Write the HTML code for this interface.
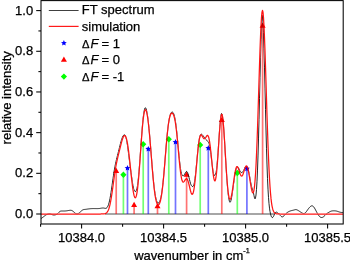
<!DOCTYPE html>
<html><head><meta charset="utf-8"><style>
html,body{margin:0;padding:0;background:#fff;width:350px;height:260px;overflow:hidden}
svg{display:block;will-change:transform}
text{font-family:"Liberation Sans",sans-serif;stroke:#000;stroke-width:0.25px}
</style></head><body>
<svg width="350" height="260" viewBox="0 0 350 260" font-family="Liberation Sans, sans-serif" font-size="13" fill="#000">
<rect width="350" height="260" fill="#fff"/>
<line x1="105" y1="214.0" x2="274.5" y2="214.0" stroke="#888" stroke-width="1.5"/>
<line x1="116.2" y1="214.0" x2="116.2" y2="170.32" stroke="#ff0000" stroke-width="1.7" stroke-opacity="0.55"/>
<line x1="134.1" y1="214.0" x2="134.1" y2="204.45" stroke="#ff0000" stroke-width="1.7" stroke-opacity="0.55"/>
<line x1="157.5" y1="214.0" x2="157.5" y2="205.67" stroke="#ff0000" stroke-width="1.7" stroke-opacity="0.55"/>
<line x1="186.6" y1="214.0" x2="186.6" y2="174.18" stroke="#ff0000" stroke-width="1.7" stroke-opacity="0.55"/>
<line x1="221.8" y1="214.0" x2="221.8" y2="119.52" stroke="#ff0000" stroke-width="1.7" stroke-opacity="0.55"/>
<line x1="262.6" y1="214.0" x2="262.6" y2="25.03" stroke="#ff0000" stroke-width="1.7" stroke-opacity="0.55"/>
<line x1="123.4" y1="214.0" x2="123.4" y2="174.79" stroke="#00ff00" stroke-width="1.7" stroke-opacity="0.55"/>
<line x1="143.2" y1="214.0" x2="143.2" y2="144.31" stroke="#00ff00" stroke-width="1.7" stroke-opacity="0.55"/>
<line x1="168.8" y1="214.0" x2="168.8" y2="139.23" stroke="#00ff00" stroke-width="1.7" stroke-opacity="0.55"/>
<line x1="200.2" y1="214.0" x2="200.2" y2="144.92" stroke="#00ff00" stroke-width="1.7" stroke-opacity="0.55"/>
<line x1="237.3" y1="214.0" x2="237.3" y2="172.96" stroke="#00ff00" stroke-width="1.7" stroke-opacity="0.55"/>
<line x1="127.5" y1="214.0" x2="127.5" y2="168.08" stroke="#0000ff" stroke-width="1.7" stroke-opacity="0.55"/>
<line x1="148.3" y1="214.0" x2="148.3" y2="148.98" stroke="#0000ff" stroke-width="1.7" stroke-opacity="0.55"/>
<line x1="175.5" y1="214.0" x2="175.5" y2="142.07" stroke="#0000ff" stroke-width="1.7" stroke-opacity="0.55"/>
<line x1="208.3" y1="214.0" x2="208.3" y2="148.17" stroke="#0000ff" stroke-width="1.7" stroke-opacity="0.55"/>
<line x1="246.9" y1="214.0" x2="246.9" y2="168.69" stroke="#0000ff" stroke-width="1.7" stroke-opacity="0.55"/>
<polygon points="116.20,167.72 119.20,172.92 113.20,172.92" fill="#ff0000"/>
<polygon points="134.10,201.85 137.10,207.05 131.10,207.05" fill="#ff0000"/>
<polygon points="157.50,203.07 160.50,208.27 154.50,208.27" fill="#ff0000"/>
<polygon points="186.60,171.58 189.60,176.78 183.60,176.78" fill="#ff0000"/>
<polygon points="221.80,116.92 224.80,122.12 218.80,122.12" fill="#ff0000"/>
<polygon points="262.60,22.43 265.60,27.63 259.60,27.63" fill="#ff0000"/>
<polygon points="123.40,171.59 126.50,174.79 123.40,177.99 120.30,174.79" fill="#00ff00"/>
<polygon points="143.20,141.11 146.30,144.31 143.20,147.51 140.10,144.31" fill="#00ff00"/>
<polygon points="168.80,136.03 171.90,139.23 168.80,142.43 165.70,139.23" fill="#00ff00"/>
<polygon points="200.20,141.72 203.30,144.92 200.20,148.12 197.10,144.92" fill="#00ff00"/>
<polygon points="237.30,169.76 240.40,172.96 237.30,176.16 234.20,172.96" fill="#00ff00"/>
<polygon points="127.50,165.03 128.35,166.91 130.40,167.14 128.88,168.53 129.29,170.55 127.50,169.53 125.71,170.55 126.12,168.53 124.60,167.14 126.65,166.91" fill="#0000ff"/>
<polygon points="148.30,145.93 149.15,147.81 151.20,148.04 149.68,149.43 150.09,151.45 148.30,150.43 146.51,151.45 146.92,149.43 145.40,148.04 147.45,147.81" fill="#0000ff"/>
<polygon points="175.50,139.02 176.35,140.90 178.40,141.13 176.88,142.52 177.29,144.54 175.50,143.52 173.71,144.54 174.12,142.52 172.60,141.13 174.65,140.90" fill="#0000ff"/>
<polygon points="208.30,145.12 209.15,146.99 211.20,147.22 209.68,148.61 210.09,150.63 208.30,149.62 206.51,150.63 206.92,148.61 205.40,147.22 207.45,146.99" fill="#0000ff"/>
<polygon points="246.90,165.64 247.75,167.52 249.80,167.75 248.28,169.14 248.69,171.16 246.90,170.14 245.11,171.16 245.52,169.14 244.00,167.75 246.05,167.52" fill="#0000ff"/>
<mask id="mk" maskUnits="userSpaceOnUse" x="0" y="0" width="350" height="260"><rect width="350" height="260" fill="#fff"/><path d="M41.00,214.00 L41.50,214.00 L42.00,214.00 L42.50,214.00 L43.00,214.00 L43.50,214.00 L44.00,214.00 L44.50,214.00 L45.00,214.00 L45.50,214.00 L46.00,214.00 L46.50,214.00 L47.00,214.00 L47.50,214.00 L48.00,214.00 L48.50,214.00 L49.00,214.00 L49.50,214.00 L50.00,214.00 L50.50,214.00 L51.00,214.00 L51.50,214.00 L52.00,214.00 L52.50,214.00 L53.00,214.00 L53.50,214.00 L54.00,214.00 L54.50,214.00 L55.00,214.00 L55.50,214.00 L56.00,214.00 L56.50,214.00 L57.00,214.00 L57.50,214.00 L58.00,214.00 L58.50,214.00 L59.00,214.00 L59.50,214.00 L60.00,214.00 L60.50,214.00 L61.00,214.00 L61.50,214.00 L62.00,214.00 L62.50,214.00 L63.00,214.00 L63.50,214.00 L64.00,214.00 L64.50,214.00 L65.00,214.00 L65.50,214.00 L66.00,214.00 L66.50,214.00 L67.00,214.00 L67.50,214.00 L68.00,214.00 L68.50,214.00 L69.00,214.00 L69.50,214.00 L70.00,214.00 L70.50,214.00 L71.00,214.00 L71.50,214.00 L72.00,214.00 L72.50,214.00 L73.00,214.00 L73.50,214.00 L74.00,214.00 L74.50,214.00 L75.00,214.00 L75.50,214.00 L76.00,214.00 L76.50,214.00 L77.00,214.00 L77.50,214.00 L78.00,214.00 L78.50,214.00 L79.00,214.00 L79.50,214.00 L80.00,214.00 L80.50,214.00 L81.00,214.00 L81.50,214.00 L82.00,214.00 L82.50,214.00 L83.00,214.00 L83.50,214.00 L84.00,214.00 L84.50,214.00 L85.00,214.00 L85.50,214.00 L86.00,214.00 L86.50,214.00 L87.00,214.00 L87.50,214.00 L88.00,214.00 L88.50,214.00 L89.00,214.00 L89.50,214.00 L90.00,214.00 L90.50,214.00 L91.00,214.00 L91.50,214.00 L92.00,214.00 L92.50,214.00 L93.00,214.00 L93.50,214.00 L94.00,214.00 L94.50,214.00 L95.00,214.00 L95.50,214.00 L96.00,214.00 L96.50,214.00 L97.00,214.00 L97.50,214.00 L98.00,214.00 L98.50,214.00 L99.00,214.00 L99.50,214.00 L100.00,214.00 L100.50,214.00 L101.00,213.99 L101.50,213.99 L102.00,213.98 L102.50,213.96 L103.00,213.94 L103.50,213.90 L104.00,213.85 L104.50,213.76 L105.00,213.63 L105.50,213.45 L106.00,213.19 L106.50,212.82 L107.00,212.32 L107.50,211.66 L108.00,210.79 L108.50,209.68 L109.00,208.29 L109.50,206.59 L110.00,204.55 L110.50,202.17 L111.00,199.46 L111.50,196.43 L112.00,193.12 L112.50,189.61 L113.00,185.97 L113.50,182.27 L114.00,178.61 L114.50,175.08 L115.00,171.73 L115.50,168.61 L116.00,165.75 L116.50,163.14 L117.00,160.75 L117.50,158.54 L118.00,156.45 L118.50,154.43 L119.00,152.43 L119.50,150.42 L120.00,148.39 L120.50,146.36 L121.00,144.35 L121.50,142.42 L122.00,140.61 L122.50,139.00 L123.00,137.64 L123.50,136.59 L124.00,135.89 L124.50,135.58 L125.00,135.70 L125.50,136.28 L126.00,137.35 L126.50,138.93 L127.00,141.03 L127.50,143.66 L128.00,146.81 L128.50,150.44 L129.00,154.50 L129.50,158.91 L130.00,163.57 L130.50,168.37 L131.00,173.17 L131.50,177.85 L132.00,182.27 L132.50,186.32 L133.00,189.89 L133.50,192.89 L134.00,195.25 L134.50,196.88 L135.00,197.74 L135.50,197.78 L136.00,196.95 L136.50,195.23 L137.00,192.61 L137.50,189.07 L138.00,184.67 L138.50,179.44 L139.00,173.50 L139.50,166.97 L140.00,160.02 L140.50,152.84 L141.00,145.67 L141.50,138.71 L142.00,132.18 L142.50,126.27 L143.00,121.14 L143.50,116.90 L144.00,113.63 L144.50,111.35 L145.00,110.06 L145.50,109.71 L146.00,110.26 L146.50,111.65 L147.00,113.81 L147.50,116.71 L148.00,120.27 L148.50,124.47 L149.00,129.24 L149.50,134.52 L150.00,140.22 L150.50,146.26 L151.00,152.50 L151.50,158.82 L152.00,165.08 L152.50,171.14 L153.00,176.88 L153.50,182.18 L154.00,186.97 L154.50,191.18 L155.00,194.79 L155.50,197.81 L156.00,200.23 L156.50,202.11 L157.00,203.48 L157.50,204.37 L158.00,204.81 L158.50,204.83 L159.00,204.43 L159.50,203.59 L160.00,202.31 L160.50,200.53 L161.00,198.24 L161.50,195.39 L162.00,191.96 L162.50,187.96 L163.00,183.38 L163.50,178.29 L164.00,172.75 L164.50,166.85 L165.00,160.74 L165.50,154.55 L166.00,148.43 L166.50,142.54 L167.00,137.01 L167.50,131.98 L168.00,127.53 L168.50,123.71 L169.00,120.54 L169.50,118.01 L170.00,116.07 L170.50,114.68 L171.00,113.76 L171.50,113.25 L172.00,113.11 L172.50,113.32 L173.00,113.89 L173.50,114.84 L174.00,116.22 L174.50,118.09 L175.00,120.51 L175.50,123.51 L176.00,127.11 L176.50,131.30 L177.00,136.00 L177.50,141.13 L178.00,146.55 L178.50,152.10 L179.00,157.59 L179.50,162.83 L180.00,167.67 L180.50,171.93 L181.00,175.51 L181.50,178.32 L182.00,180.34 L182.50,181.59 L183.00,182.14 L183.50,182.11 L184.00,181.64 L184.50,180.90 L185.00,180.07 L185.50,179.33 L186.00,178.82 L186.50,178.66 L187.00,178.95 L187.50,179.71 L188.00,180.93 L188.50,182.56 L189.00,184.49 L189.50,186.60 L190.00,188.74 L190.50,190.73 L191.00,192.43 L191.50,193.66 L192.00,194.29 L192.50,194.21 L193.00,193.33 L193.50,191.60 L194.00,189.02 L194.50,185.60 L195.00,181.44 L195.50,176.64 L196.00,171.37 L196.50,165.82 L197.00,160.20 L197.50,154.75 L198.00,149.67 L198.50,145.16 L199.00,141.40 L199.50,138.47 L200.00,136.43 L200.50,135.25 L201.00,134.84 L201.50,135.06 L202.00,135.70 L202.50,136.58 L203.00,137.48 L203.50,138.22 L204.00,138.67 L204.50,138.75 L205.00,138.46 L205.50,137.86 L206.00,137.06 L206.50,136.25 L207.00,135.62 L207.50,135.36 L208.00,135.67 L208.50,136.69 L209.00,138.51 L209.50,141.17 L210.00,144.62 L210.50,148.76 L211.00,153.42 L211.50,158.39 L212.00,163.44 L212.50,168.29 L213.00,172.68 L213.50,176.35 L214.00,179.08 L214.50,180.65 L215.00,180.92 L215.50,179.79 L216.00,177.23 L216.50,173.26 L217.00,168.01 L217.50,161.67 L218.00,154.53 L218.50,146.92 L219.00,139.25 L219.50,131.94 L220.00,125.44 L220.50,120.14 L221.00,116.39 L221.50,114.44 L222.00,114.43 L222.50,116.38 L223.00,120.18 L223.50,125.61 L224.00,132.37 L224.50,140.08 L225.00,148.36 L225.50,156.80 L226.00,165.05 L226.50,172.78 L227.00,179.74 L227.50,185.76 L228.00,190.71 L228.50,194.54 L229.00,197.23 L229.50,198.83 L230.00,199.37 L230.50,198.95 L231.00,197.66 L231.50,195.62 L232.00,192.94 L232.50,189.78 L233.00,186.30 L233.50,182.66 L234.00,179.04 L234.50,175.64 L235.00,172.61 L235.50,170.09 L236.00,168.22 L236.50,167.04 L237.00,166.57 L237.50,166.78 L238.00,167.58 L238.50,168.83 L239.00,170.36 L239.50,171.99 L240.00,173.53 L240.50,174.82 L241.00,175.72 L241.50,176.13 L242.00,176.01 L242.50,175.38 L243.00,174.30 L243.50,172.88 L244.00,171.27 L244.50,169.62 L245.00,168.11 L245.50,166.90 L246.00,166.14 L246.50,165.93 L247.00,166.34 L247.50,167.40 L248.00,169.08 L248.50,171.33 L249.00,174.04 L249.50,177.08 L250.00,180.28 L250.50,183.49 L251.00,186.50 L251.50,189.14 L252.00,191.22 L252.50,192.53 L253.00,192.90 L253.50,192.12 L254.00,190.03 L254.50,186.45 L255.00,181.24 L255.50,174.27 L256.00,165.48 L256.50,154.89 L257.00,142.56 L257.50,128.69 L258.00,113.58 L258.50,97.63 L259.00,81.37 L259.50,65.39 L260.00,50.34 L260.50,36.89 L261.00,25.68 L261.50,17.26 L262.00,12.07 L262.50,10.37 L263.00,12.28 L263.50,17.67 L264.00,26.28 L264.50,37.66 L265.00,51.26 L265.50,66.46 L266.00,82.59 L266.50,99.01 L267.00,115.15 L267.50,130.51 L268.00,144.73 L268.50,157.54 L269.00,168.79 L269.50,178.43 L270.00,186.51 L270.50,193.13 L271.00,198.43 L271.50,202.59 L272.00,205.78 L272.50,208.19 L273.00,209.96 L273.50,211.24 L274.00,212.15 L274.50,212.78 L275.00,213.21 L275.50,213.50 L276.00,213.69 L276.50,213.81 L277.00,213.88 L277.50,213.93 L278.00,213.96 L278.50,213.98 L279.00,213.99 L279.50,213.99 L280.00,214.00 L280.50,214.00 L281.00,214.00 L281.50,214.00 L282.00,214.00 L282.50,214.00 L283.00,214.00 L283.50,214.00 L284.00,214.00 L284.50,214.00 L285.00,214.00 L285.50,214.00 L286.00,214.00 L286.50,214.00 L287.00,214.00 L287.50,214.00 L288.00,214.00 L288.50,214.00 L289.00,214.00 L289.50,214.00 L290.00,214.00 L290.50,214.00 L291.00,214.00 L291.50,214.00 L292.00,214.00 L292.50,214.00 L293.00,214.00 L293.50,214.00 L294.00,214.00 L294.50,214.00 L295.00,214.00 L295.50,214.00 L296.00,214.00 L296.50,214.00 L297.00,214.00 L297.50,214.00 L298.00,214.00 L298.50,214.00 L299.00,214.00 L299.50,214.00 L300.00,214.00 L300.50,214.00 L301.00,214.00 L301.50,214.00 L302.00,214.00 L302.50,214.00 L303.00,214.00 L303.50,214.00 L304.00,214.00 L304.50,214.00 L305.00,214.00 L305.50,214.00 L306.00,214.00 L306.50,214.00 L307.00,214.00 L307.50,214.00 L308.00,214.00 L308.50,214.00 L309.00,214.00 L309.50,214.00 L310.00,214.00 L310.50,214.00 L311.00,214.00 L311.50,214.00 L312.00,214.00 L312.50,214.00 L313.00,214.00 L313.50,214.00 L314.00,214.00 L314.50,214.00 L315.00,214.00 L315.50,214.00 L316.00,214.00 L316.50,214.00 L317.00,214.00 L317.50,214.00 L318.00,214.00 L318.50,214.00 L319.00,214.00 L319.50,214.00 L320.00,214.00 L320.50,214.00 L321.00,214.00 L321.50,214.00 L322.00,214.00 L322.50,214.00 L323.00,214.00 L323.50,214.00 L324.00,214.00 L324.50,214.00 L325.00,214.00 L325.50,214.00 L326.00,214.00 L326.50,214.00 L327.00,214.00 L327.50,214.00 L328.00,214.00 L328.50,214.00 L329.00,214.00 L329.50,214.00 L330.00,214.00 L330.50,214.00 L331.00,214.00 L331.50,214.00 L332.00,214.00 L332.50,214.00 L333.00,214.00 L333.50,214.00 L334.00,214.00 L334.50,214.00 L335.00,214.00 L335.50,214.00 L336.00,214.00 L336.50,214.00 L337.00,214.00 L337.50,214.00 L338.00,214.00 L338.50,214.00 L339.00,214.00 L339.50,214.00 L340.00,214.00 L340.50,214.00 L341.00,214.00 L341.50,214.00 L342.00,214.00 L342.50,214.00 L343.00,214.00" fill="none" stroke="#000" stroke-width="1.0"/></mask>
<path d="M41.00,218.65 L41.50,218.28 L42.00,217.91 L42.50,217.55 L43.00,217.17 L43.50,216.79 L44.00,216.40 L44.50,216.00 L45.00,215.61 L45.50,215.24 L46.00,214.90 L46.50,214.61 L47.00,214.37 L47.50,214.17 L48.00,214.00 L48.50,213.87 L49.00,213.78 L49.50,213.76 L50.00,213.80 L50.50,213.92 L51.00,214.11 L51.50,214.32 L52.00,214.54 L52.50,214.75 L53.00,214.90 L53.50,214.99 L54.00,215.01 L54.50,214.98 L55.00,214.90 L55.50,214.78 L56.00,214.61 L56.50,214.38 L57.00,214.08 L57.50,213.70 L58.00,213.24 L58.50,212.73 L59.00,212.22 L59.50,211.76 L60.00,211.40 L60.50,211.17 L61.00,211.05 L61.50,211.01 L62.00,211.00 L62.50,211.00 L63.00,211.01 L63.50,211.01 L64.00,211.01 L64.50,211.00 L65.00,210.98 L65.50,210.95 L66.00,210.90 L66.50,210.84 L67.00,210.76 L67.50,210.68 L68.00,210.59 L68.50,210.50 L69.00,210.42 L69.50,210.35 L70.00,210.30 L70.50,210.27 L71.00,210.30 L71.50,210.40 L72.00,210.60 L72.50,210.90 L73.00,211.27 L73.50,211.70 L74.00,212.16 L74.50,212.63 L75.00,213.05 L75.50,213.40 L76.00,213.64 L76.50,213.76 L77.00,213.80 L77.50,213.75 L78.00,213.62 L78.50,213.40 L79.00,213.10 L79.50,212.71 L80.00,212.26 L80.50,211.78 L81.00,211.30 L81.50,210.84 L82.00,210.42 L82.50,210.07 L83.00,209.80 L83.50,209.62 L84.00,209.51 L84.50,209.45 L85.00,209.40 L85.50,209.35 L86.00,209.28 L86.50,209.22 L87.00,209.15 L87.50,209.07 L88.00,209.00 L88.50,208.93 L89.00,208.87 L89.50,208.81 L90.00,208.75 L90.50,208.70 L91.00,208.66 L91.50,208.63 L92.00,208.60 L92.50,208.58 L93.00,208.57 L93.50,208.57 L94.00,208.57 L94.50,208.58 L95.00,208.59 L95.50,208.59 L96.00,208.60 L96.50,208.60 L97.00,208.60 L97.50,208.60 L98.00,208.58 L98.50,208.56 L99.00,208.52 L99.50,208.47 L100.00,208.40 L100.50,208.31 L101.00,208.22 L101.50,208.14 L102.00,208.06 L102.50,208.02 L103.00,208.01 L103.50,208.03 L104.00,208.10 L104.50,208.21 L105.00,208.32 L105.50,208.36 L106.00,208.30 L106.50,208.07 L107.00,207.62 L107.50,206.93 L108.00,205.94 L108.50,204.63 L109.00,202.95 L109.50,200.90 L110.00,198.46 L110.50,195.67 L111.00,192.58 L111.50,189.24 L112.00,185.74 L112.50,182.17 L113.00,178.65 L113.50,175.24 L114.00,172.01 L114.50,169.02 L115.00,166.28 L115.50,163.78 L116.00,161.49 L116.50,159.36 L117.00,157.34 L117.50,155.36 L118.00,153.40 L118.50,151.41 L119.00,149.39 L119.50,147.35 L120.00,145.31 L120.50,143.34 L121.00,141.51 L121.50,139.83 L122.00,138.34 L122.50,137.07 L123.00,136.05 L123.50,135.30 L124.00,134.89 L124.50,134.85 L125.00,135.28 L125.50,136.22 L126.00,137.72 L126.50,139.79 L127.00,142.43 L127.50,145.61 L128.00,149.28 L128.50,153.22 L129.00,157.18 L129.50,161.11 L130.00,164.99 L130.50,168.78 L131.00,172.49 L131.50,176.10 L132.00,179.56 L132.50,182.82 L133.00,185.77 L133.50,188.18 L134.00,189.91 L134.50,190.99 L135.00,191.50 L135.50,191.54 L136.00,191.11 L136.50,190.08 L137.00,188.26 L137.50,185.50 L138.00,181.75 L138.50,177.04 L139.00,171.48 L139.50,165.22 L140.00,158.46 L140.50,151.41 L141.00,144.30 L141.50,137.35 L142.00,130.78 L142.50,124.79 L143.00,119.53 L143.50,115.13 L144.00,111.70 L144.50,109.30 L145.00,108.00 L145.50,107.77 L146.00,108.53 L146.50,110.16 L147.00,112.56 L147.50,115.65 L148.00,119.38 L148.50,123.70 L149.00,128.56 L149.50,133.90 L150.00,139.65 L150.50,145.71 L151.00,151.96 L151.50,158.27 L152.00,164.50 L152.50,170.51 L153.00,176.18 L153.50,181.39 L154.00,186.05 L154.50,190.12 L155.00,193.58 L155.50,196.42 L156.00,198.69 L156.50,200.43 L157.00,201.69 L157.50,202.51 L158.00,202.93 L158.50,202.97 L159.00,202.62 L159.50,201.88 L160.00,200.71 L160.50,199.09 L161.00,196.97 L161.50,194.29 L162.00,191.03 L162.50,187.17 L163.00,182.73 L163.50,177.73 L164.00,172.27 L164.50,166.44 L165.00,160.37 L165.50,154.21 L166.00,148.10 L166.50,142.22 L167.00,136.69 L167.50,131.64 L168.00,127.16 L168.50,123.29 L169.00,120.07 L169.50,117.47 L170.00,115.45 L170.50,113.96 L171.00,112.93 L171.50,112.31 L172.00,112.03 L172.50,112.09 L173.00,112.50 L173.50,113.30 L174.00,114.56 L174.50,116.34 L175.00,118.72 L175.50,121.72 L176.00,125.34 L176.50,129.56 L177.00,134.28 L177.50,139.40 L178.00,144.76 L178.50,150.19 L179.00,155.50 L179.50,160.47 L180.00,164.92 L180.50,168.67 L181.00,171.59 L181.50,173.67 L182.00,174.97 L182.50,175.66 L183.00,175.89 L183.50,175.72 L184.00,175.21 L184.50,174.43 L185.00,173.48 L185.50,172.55 L186.00,171.81 L186.50,171.45 L187.00,171.63 L187.50,172.40 L188.00,173.74 L188.50,175.50 L189.00,177.53 L189.50,179.64 L190.00,181.65 L190.50,183.41 L191.00,184.79 L191.50,185.75 L192.00,186.31 L192.50,186.56 L193.00,186.46 L193.50,185.81 L194.00,184.36 L194.50,181.95 L195.00,178.59 L195.50,174.40 L196.00,169.59 L196.50,164.37 L197.00,159.01 L197.50,153.75 L198.00,148.83 L198.50,144.46 L199.00,140.82 L199.50,138.00 L200.00,136.02 L200.50,134.81 L201.00,134.25 L201.50,134.18 L202.00,134.47 L202.50,135.01 L203.00,135.65 L203.50,136.33 L204.00,137.01 L204.50,137.75 L205.00,138.47 L205.50,139.08 L206.00,139.58 L206.50,140.03 L207.00,140.54 L207.50,141.12 L208.00,141.71 L208.50,142.39 L209.00,143.38 L209.50,145.00 L210.00,147.43 L210.50,150.69 L211.00,154.62 L211.50,158.94 L212.00,163.36 L212.50,167.54 L213.00,171.11 L213.50,173.74 L214.00,175.15 L214.50,175.40 L215.00,174.99 L215.50,174.25 L216.00,172.73 L216.50,169.83 L217.00,165.39 L217.50,159.62 L218.00,152.85 L218.50,145.48 L219.00,137.95 L219.50,130.72 L220.00,124.23 L220.50,118.91 L221.00,115.19 L221.50,113.50 L222.00,114.03 L222.50,116.45 L223.00,120.47 L223.50,125.99 L224.00,132.79 L224.50,140.53 L225.00,148.85 L225.50,157.36 L226.00,165.69 L226.50,173.56 L227.00,180.71 L227.50,186.99 L228.00,192.29 L228.50,196.54 L229.00,199.68 L229.50,201.62 L230.00,202.30 L230.50,201.80 L231.00,200.29 L231.50,197.99 L232.00,195.08 L232.50,191.74 L233.00,188.11 L233.50,184.38 L234.00,180.72 L234.50,177.28 L235.00,174.22 L235.50,171.64 L236.00,169.61 L236.50,168.16 L237.00,167.29 L237.50,167.00 L238.00,167.25 L238.50,167.95 L239.00,168.95 L239.50,170.06 L240.00,171.08 L240.50,171.87 L241.00,172.37 L241.50,172.57 L242.00,172.50 L242.50,172.18 L243.00,171.59 L243.50,170.73 L244.00,169.68 L244.50,168.59 L245.00,167.62 L245.50,166.90 L246.00,166.54 L246.50,166.57 L247.00,167.00 L247.50,167.83 L248.00,169.13 L248.50,170.92 L249.00,173.16 L249.50,175.76 L250.00,178.55 L250.50,181.35 L251.00,183.98 L251.50,186.27 L252.00,188.10 L252.50,189.54 L253.00,191.00 L253.50,193.05 L254.00,195.64 L254.50,197.90 L255.00,198.87 L255.50,197.99 L256.00,194.94 L256.50,189.45 L257.00,181.24 L257.50,170.10 L258.00,155.94 L258.50,138.93 L259.00,119.54 L259.50,98.63 L260.00,77.36 L260.50,57.17 L261.00,39.55 L261.50,25.87 L262.00,17.17 L262.50,15.21 L263.00,21.31 L263.50,32.59 L264.00,48.19 L264.50,67.16 L265.00,88.09 L265.50,109.48 L266.00,130.04 L266.50,148.75 L267.00,164.97 L267.50,178.44 L268.00,189.18 L268.50,197.44 L269.00,203.62 L269.50,208.15 L270.00,211.45 L270.50,213.88 L271.00,215.64 L271.50,216.84 L272.00,217.48 L272.50,217.57 L273.00,217.18 L273.50,216.38 L274.00,215.33 L274.50,214.23 L275.00,213.23 L275.50,212.49 L276.00,212.13 L276.50,212.14 L277.00,212.40 L277.50,212.80 L278.00,213.24 L278.50,213.69 L279.00,214.17 L279.50,214.68 L280.00,215.22 L280.50,215.76 L281.00,216.26 L281.50,216.65 L282.00,216.87 L282.50,216.87 L283.00,216.66 L283.50,216.28 L284.00,215.80 L284.50,215.26 L285.00,214.69 L285.50,214.13 L286.00,213.60 L286.50,213.13 L287.00,212.71 L287.50,212.34 L288.00,212.02 L288.50,211.73 L289.00,211.48 L289.50,211.25 L290.00,211.06 L290.50,210.89 L291.00,210.73 L291.50,210.60 L292.00,210.48 L292.50,210.36 L293.00,210.25 L293.50,210.13 L294.00,210.00 L294.50,209.85 L295.00,209.71 L295.50,209.61 L296.00,209.60 L296.50,209.69 L297.00,209.87 L297.50,210.12 L298.00,210.40 L298.50,210.70 L299.00,211.01 L299.50,211.32 L300.00,211.64 L300.50,211.97 L301.00,212.30 L301.50,212.63 L302.00,212.93 L302.50,213.19 L303.00,213.39 L303.50,213.50 L304.00,213.50 L304.50,213.38 L305.00,213.10 L305.50,212.66 L306.00,212.10 L306.50,211.44 L307.00,210.72 L307.50,210.00 L308.00,209.30 L308.50,208.63 L309.00,208.00 L309.50,207.42 L310.00,206.90 L310.50,206.45 L311.00,206.09 L311.50,205.87 L312.00,205.80 L312.50,205.92 L313.00,206.22 L313.50,206.68 L314.00,207.30 L314.50,208.06 L315.00,208.92 L315.50,209.84 L316.00,210.80 L316.50,211.75 L317.00,212.68 L317.50,213.56 L318.00,214.40 L318.50,215.17 L319.00,215.86 L319.50,216.44 L320.00,216.90 L320.50,217.23 L321.00,217.42 L321.50,217.50 L322.00,217.47 L322.50,217.34 L323.00,217.10 L323.50,216.77 L324.00,216.36 L324.50,215.89 L325.00,215.40 L325.50,214.90 L326.00,214.40 L326.50,213.93 L327.00,213.50 L327.50,213.12 L328.00,212.79 L328.50,212.49 L329.00,212.20 L329.50,211.92 L330.00,211.65 L330.50,211.40 L331.00,211.20 L331.50,211.04 L332.00,210.93 L332.50,210.86 L333.00,210.81 L333.50,210.80 L334.00,210.80 L334.50,210.82 L335.00,210.85 L335.50,210.90 L336.00,210.98 L336.50,211.07 L337.00,211.20 L337.50,211.35 L338.00,211.53 L338.50,211.71 L339.00,211.89 L339.50,212.06 L340.00,212.20 L340.50,212.31 L341.00,212.39 L341.50,212.44 L342.00,212.47 L342.50,212.49 L343.00,212.50" fill="none" stroke="#000" stroke-width="0.95" stroke-opacity="0.9" stroke-linejoin="round" mask="url(#mk)"/>
<path d="M41.00,214.00 L41.50,214.00 L42.00,214.00 L42.50,214.00 L43.00,214.00 L43.50,214.00 L44.00,214.00 L44.50,214.00 L45.00,214.00 L45.50,214.00 L46.00,214.00 L46.50,214.00 L47.00,214.00 L47.50,214.00 L48.00,214.00 L48.50,214.00 L49.00,214.00 L49.50,214.00 L50.00,214.00 L50.50,214.00 L51.00,214.00 L51.50,214.00 L52.00,214.00 L52.50,214.00 L53.00,214.00 L53.50,214.00 L54.00,214.00 L54.50,214.00 L55.00,214.00 L55.50,214.00 L56.00,214.00 L56.50,214.00 L57.00,214.00 L57.50,214.00 L58.00,214.00 L58.50,214.00 L59.00,214.00 L59.50,214.00 L60.00,214.00 L60.50,214.00 L61.00,214.00 L61.50,214.00 L62.00,214.00 L62.50,214.00 L63.00,214.00 L63.50,214.00 L64.00,214.00 L64.50,214.00 L65.00,214.00 L65.50,214.00 L66.00,214.00 L66.50,214.00 L67.00,214.00 L67.50,214.00 L68.00,214.00 L68.50,214.00 L69.00,214.00 L69.50,214.00 L70.00,214.00 L70.50,214.00 L71.00,214.00 L71.50,214.00 L72.00,214.00 L72.50,214.00 L73.00,214.00 L73.50,214.00 L74.00,214.00 L74.50,214.00 L75.00,214.00 L75.50,214.00 L76.00,214.00 L76.50,214.00 L77.00,214.00 L77.50,214.00 L78.00,214.00 L78.50,214.00 L79.00,214.00 L79.50,214.00 L80.00,214.00 L80.50,214.00 L81.00,214.00 L81.50,214.00 L82.00,214.00 L82.50,214.00 L83.00,214.00 L83.50,214.00 L84.00,214.00 L84.50,214.00 L85.00,214.00 L85.50,214.00 L86.00,214.00 L86.50,214.00 L87.00,214.00 L87.50,214.00 L88.00,214.00 L88.50,214.00 L89.00,214.00 L89.50,214.00 L90.00,214.00 L90.50,214.00 L91.00,214.00 L91.50,214.00 L92.00,214.00 L92.50,214.00 L93.00,214.00 L93.50,214.00 L94.00,214.00 L94.50,214.00 L95.00,214.00 L95.50,214.00 L96.00,214.00 L96.50,214.00 L97.00,214.00 L97.50,214.00 L98.00,214.00 L98.50,214.00 L99.00,214.00 L99.50,214.00 L100.00,214.00 L100.50,214.00 L101.00,213.99 L101.50,213.99 L102.00,213.98 L102.50,213.96 L103.00,213.94 L103.50,213.90 L104.00,213.85 L104.50,213.76 L105.00,213.63 L105.50,213.45 L106.00,213.19 L106.50,212.82 L107.00,212.32 L107.50,211.66 L108.00,210.79 L108.50,209.68 L109.00,208.29 L109.50,206.59 L110.00,204.55 L110.50,202.17 L111.00,199.46 L111.50,196.43 L112.00,193.12 L112.50,189.61 L113.00,185.97 L113.50,182.27 L114.00,178.61 L114.50,175.08 L115.00,171.73 L115.50,168.61 L116.00,165.75 L116.50,163.14 L117.00,160.75 L117.50,158.54 L118.00,156.45 L118.50,154.43 L119.00,152.43 L119.50,150.42 L120.00,148.39 L120.50,146.36 L121.00,144.35 L121.50,142.42 L122.00,140.61 L122.50,139.00 L123.00,137.64 L123.50,136.59 L124.00,135.89 L124.50,135.58 L125.00,135.70 L125.50,136.28 L126.00,137.35 L126.50,138.93 L127.00,141.03 L127.50,143.66 L128.00,146.81 L128.50,150.44 L129.00,154.50 L129.50,158.91 L130.00,163.57 L130.50,168.37 L131.00,173.17 L131.50,177.85 L132.00,182.27 L132.50,186.32 L133.00,189.89 L133.50,192.89 L134.00,195.25 L134.50,196.88 L135.00,197.74 L135.50,197.78 L136.00,196.95 L136.50,195.23 L137.00,192.61 L137.50,189.07 L138.00,184.67 L138.50,179.44 L139.00,173.50 L139.50,166.97 L140.00,160.02 L140.50,152.84 L141.00,145.67 L141.50,138.71 L142.00,132.18 L142.50,126.27 L143.00,121.14 L143.50,116.90 L144.00,113.63 L144.50,111.35 L145.00,110.06 L145.50,109.71 L146.00,110.26 L146.50,111.65 L147.00,113.81 L147.50,116.71 L148.00,120.27 L148.50,124.47 L149.00,129.24 L149.50,134.52 L150.00,140.22 L150.50,146.26 L151.00,152.50 L151.50,158.82 L152.00,165.08 L152.50,171.14 L153.00,176.88 L153.50,182.18 L154.00,186.97 L154.50,191.18 L155.00,194.79 L155.50,197.81 L156.00,200.23 L156.50,202.11 L157.00,203.48 L157.50,204.37 L158.00,204.81 L158.50,204.83 L159.00,204.43 L159.50,203.59 L160.00,202.31 L160.50,200.53 L161.00,198.24 L161.50,195.39 L162.00,191.96 L162.50,187.96 L163.00,183.38 L163.50,178.29 L164.00,172.75 L164.50,166.85 L165.00,160.74 L165.50,154.55 L166.00,148.43 L166.50,142.54 L167.00,137.01 L167.50,131.98 L168.00,127.53 L168.50,123.71 L169.00,120.54 L169.50,118.01 L170.00,116.07 L170.50,114.68 L171.00,113.76 L171.50,113.25 L172.00,113.11 L172.50,113.32 L173.00,113.89 L173.50,114.84 L174.00,116.22 L174.50,118.09 L175.00,120.51 L175.50,123.51 L176.00,127.11 L176.50,131.30 L177.00,136.00 L177.50,141.13 L178.00,146.55 L178.50,152.10 L179.00,157.59 L179.50,162.83 L180.00,167.67 L180.50,171.93 L181.00,175.51 L181.50,178.32 L182.00,180.34 L182.50,181.59 L183.00,182.14 L183.50,182.11 L184.00,181.64 L184.50,180.90 L185.00,180.07 L185.50,179.33 L186.00,178.82 L186.50,178.66 L187.00,178.95 L187.50,179.71 L188.00,180.93 L188.50,182.56 L189.00,184.49 L189.50,186.60 L190.00,188.74 L190.50,190.73 L191.00,192.43 L191.50,193.66 L192.00,194.29 L192.50,194.21 L193.00,193.33 L193.50,191.60 L194.00,189.02 L194.50,185.60 L195.00,181.44 L195.50,176.64 L196.00,171.37 L196.50,165.82 L197.00,160.20 L197.50,154.75 L198.00,149.67 L198.50,145.16 L199.00,141.40 L199.50,138.47 L200.00,136.43 L200.50,135.25 L201.00,134.84 L201.50,135.06 L202.00,135.70 L202.50,136.58 L203.00,137.48 L203.50,138.22 L204.00,138.67 L204.50,138.75 L205.00,138.46 L205.50,137.86 L206.00,137.06 L206.50,136.25 L207.00,135.62 L207.50,135.36 L208.00,135.67 L208.50,136.69 L209.00,138.51 L209.50,141.17 L210.00,144.62 L210.50,148.76 L211.00,153.42 L211.50,158.39 L212.00,163.44 L212.50,168.29 L213.00,172.68 L213.50,176.35 L214.00,179.08 L214.50,180.65 L215.00,180.92 L215.50,179.79 L216.00,177.23 L216.50,173.26 L217.00,168.01 L217.50,161.67 L218.00,154.53 L218.50,146.92 L219.00,139.25 L219.50,131.94 L220.00,125.44 L220.50,120.14 L221.00,116.39 L221.50,114.44 L222.00,114.43 L222.50,116.38 L223.00,120.18 L223.50,125.61 L224.00,132.37 L224.50,140.08 L225.00,148.36 L225.50,156.80 L226.00,165.05 L226.50,172.78 L227.00,179.74 L227.50,185.76 L228.00,190.71 L228.50,194.54 L229.00,197.23 L229.50,198.83 L230.00,199.37 L230.50,198.95 L231.00,197.66 L231.50,195.62 L232.00,192.94 L232.50,189.78 L233.00,186.30 L233.50,182.66 L234.00,179.04 L234.50,175.64 L235.00,172.61 L235.50,170.09 L236.00,168.22 L236.50,167.04 L237.00,166.57 L237.50,166.78 L238.00,167.58 L238.50,168.83 L239.00,170.36 L239.50,171.99 L240.00,173.53 L240.50,174.82 L241.00,175.72 L241.50,176.13 L242.00,176.01 L242.50,175.38 L243.00,174.30 L243.50,172.88 L244.00,171.27 L244.50,169.62 L245.00,168.11 L245.50,166.90 L246.00,166.14 L246.50,165.93 L247.00,166.34 L247.50,167.40 L248.00,169.08 L248.50,171.33 L249.00,174.04 L249.50,177.08 L250.00,180.28 L250.50,183.49 L251.00,186.50 L251.50,189.14 L252.00,191.22 L252.50,192.53 L253.00,192.90 L253.50,192.12 L254.00,190.03 L254.50,186.45 L255.00,181.24 L255.50,174.27 L256.00,165.48 L256.50,154.89 L257.00,142.56 L257.50,128.69 L258.00,113.58 L258.50,97.63 L259.00,81.37 L259.50,65.39 L260.00,50.34 L260.50,36.89 L261.00,25.68 L261.50,17.26 L262.00,12.07 L262.50,10.37 L263.00,12.28 L263.50,17.67 L264.00,26.28 L264.50,37.66 L265.00,51.26 L265.50,66.46 L266.00,82.59 L266.50,99.01 L267.00,115.15 L267.50,130.51 L268.00,144.73 L268.50,157.54 L269.00,168.79 L269.50,178.43 L270.00,186.51 L270.50,193.13 L271.00,198.43 L271.50,202.59 L272.00,205.78 L272.50,208.19 L273.00,209.96 L273.50,211.24 L274.00,212.15 L274.50,212.78 L275.00,213.21 L275.50,213.50 L276.00,213.69 L276.50,213.81 L277.00,213.88 L277.50,213.93 L278.00,213.96 L278.50,213.98 L279.00,213.99 L279.50,213.99 L280.00,214.00 L280.50,214.00 L281.00,214.00 L281.50,214.00 L282.00,214.00 L282.50,214.00 L283.00,214.00 L283.50,214.00 L284.00,214.00 L284.50,214.00 L285.00,214.00 L285.50,214.00 L286.00,214.00 L286.50,214.00 L287.00,214.00 L287.50,214.00 L288.00,214.00 L288.50,214.00 L289.00,214.00 L289.50,214.00 L290.00,214.00 L290.50,214.00 L291.00,214.00 L291.50,214.00 L292.00,214.00 L292.50,214.00 L293.00,214.00 L293.50,214.00 L294.00,214.00 L294.50,214.00 L295.00,214.00 L295.50,214.00 L296.00,214.00 L296.50,214.00 L297.00,214.00 L297.50,214.00 L298.00,214.00 L298.50,214.00 L299.00,214.00 L299.50,214.00 L300.00,214.00 L300.50,214.00 L301.00,214.00 L301.50,214.00 L302.00,214.00 L302.50,214.00 L303.00,214.00 L303.50,214.00 L304.00,214.00 L304.50,214.00 L305.00,214.00 L305.50,214.00 L306.00,214.00 L306.50,214.00 L307.00,214.00 L307.50,214.00 L308.00,214.00 L308.50,214.00 L309.00,214.00 L309.50,214.00 L310.00,214.00 L310.50,214.00 L311.00,214.00 L311.50,214.00 L312.00,214.00 L312.50,214.00 L313.00,214.00 L313.50,214.00 L314.00,214.00 L314.50,214.00 L315.00,214.00 L315.50,214.00 L316.00,214.00 L316.50,214.00 L317.00,214.00 L317.50,214.00 L318.00,214.00 L318.50,214.00 L319.00,214.00 L319.50,214.00 L320.00,214.00 L320.50,214.00 L321.00,214.00 L321.50,214.00 L322.00,214.00 L322.50,214.00 L323.00,214.00 L323.50,214.00 L324.00,214.00 L324.50,214.00 L325.00,214.00 L325.50,214.00 L326.00,214.00 L326.50,214.00 L327.00,214.00 L327.50,214.00 L328.00,214.00 L328.50,214.00 L329.00,214.00 L329.50,214.00 L330.00,214.00 L330.50,214.00 L331.00,214.00 L331.50,214.00 L332.00,214.00 L332.50,214.00 L333.00,214.00 L333.50,214.00 L334.00,214.00 L334.50,214.00 L335.00,214.00 L335.50,214.00 L336.00,214.00 L336.50,214.00 L337.00,214.00 L337.50,214.00 L338.00,214.00 L338.50,214.00 L339.00,214.00 L339.50,214.00 L340.00,214.00 L340.50,214.00 L341.00,214.00 L341.50,214.00 L342.00,214.00 L342.50,214.00 L343.00,214.00" fill="none" stroke="#ff0000" stroke-width="1.25" stroke-opacity="0.92" stroke-linejoin="round"/>
<rect x="41.0" y="0.6" width="302.20" height="223.40" fill="none" stroke="#000" stroke-width="1.05"/>
<line x1="36.20" y1="214.00" x2="41.0" y2="214.00" stroke="#000" stroke-width="1.05"/>
<line x1="38.40" y1="193.66" x2="41.0" y2="193.66" stroke="#000" stroke-width="1.05"/>
<line x1="36.20" y1="173.32" x2="41.0" y2="173.32" stroke="#000" stroke-width="1.05"/>
<line x1="38.40" y1="152.98" x2="41.0" y2="152.98" stroke="#000" stroke-width="1.05"/>
<line x1="36.20" y1="132.64" x2="41.0" y2="132.64" stroke="#000" stroke-width="1.05"/>
<line x1="38.40" y1="112.30" x2="41.0" y2="112.30" stroke="#000" stroke-width="1.05"/>
<line x1="36.20" y1="91.96" x2="41.0" y2="91.96" stroke="#000" stroke-width="1.05"/>
<line x1="38.40" y1="71.62" x2="41.0" y2="71.62" stroke="#000" stroke-width="1.05"/>
<line x1="36.20" y1="51.28" x2="41.0" y2="51.28" stroke="#000" stroke-width="1.05"/>
<line x1="38.40" y1="30.94" x2="41.0" y2="30.94" stroke="#000" stroke-width="1.05"/>
<line x1="36.20" y1="10.60" x2="41.0" y2="10.60" stroke="#000" stroke-width="1.05"/>
<line x1="40.60" y1="224.0" x2="40.60" y2="226.70" stroke="#000" stroke-width="1.05"/>
<line x1="81.60" y1="224.0" x2="81.60" y2="228.60" stroke="#000" stroke-width="1.05"/>
<line x1="122.60" y1="224.0" x2="122.60" y2="226.70" stroke="#000" stroke-width="1.05"/>
<line x1="163.60" y1="224.0" x2="163.60" y2="228.60" stroke="#000" stroke-width="1.05"/>
<line x1="204.60" y1="224.0" x2="204.60" y2="226.70" stroke="#000" stroke-width="1.05"/>
<line x1="245.60" y1="224.0" x2="245.60" y2="228.60" stroke="#000" stroke-width="1.05"/>
<line x1="286.60" y1="224.0" x2="286.60" y2="226.70" stroke="#000" stroke-width="1.05"/>
<line x1="327.60" y1="224.0" x2="327.60" y2="228.60" stroke="#000" stroke-width="1.05"/>
<text x="33.2" y="217.95" text-anchor="end">0.0</text>
<text x="33.2" y="177.27" text-anchor="end">0.2</text>
<text x="33.2" y="136.59" text-anchor="end">0.4</text>
<text x="33.2" y="95.91" text-anchor="end">0.6</text>
<text x="33.2" y="55.23" text-anchor="end">0.8</text>
<text x="33.2" y="14.55" text-anchor="end">1.0</text>
<text x="81.60" y="242.2" text-anchor="middle">10384.0</text>
<text x="163.60" y="242.2" text-anchor="middle">10384.5</text>
<text x="245.60" y="242.2" text-anchor="middle">10385.0</text>
<text x="327.60" y="242.2" text-anchor="middle">10385.5</text>
<text x="134.2" y="259.9">wavenumber in cm<tspan font-size="7.2" dy="-7.4">-1</tspan></text>
<text transform="translate(10.6,144.4) rotate(-90)">relative intensity</text>
<line x1="48.8" y1="10.5" x2="78.6" y2="10.5" stroke="#000" stroke-opacity="0.75" stroke-width="1"/>
<line x1="48.8" y1="26.4" x2="78.6" y2="26.4" stroke="#ff1a1a" stroke-width="1.2"/>
<polygon points="63.90,40.05 64.75,41.93 66.80,42.16 65.28,43.55 65.69,45.57 63.90,44.55 62.11,45.57 62.52,43.55 61.00,42.16 63.05,41.93" fill="#0000ff"/>
<polygon points="63.90,56.50 66.90,61.70 60.90,61.70" fill="#ff0000"/>
<polygon points="63.90,73.40 67.00,76.60 63.90,79.80 60.80,76.60" fill="#00ff00"/>
<text x="81.8" y="14.3">FT spectrum</text>
<text x="81.8" y="30.8">simulation</text>
<text y="47.7"><tspan x="81.9" font-size="11.2">Δ</tspan><tspan x="90.6" font-style="italic">F</tspan><tspan x="101.5">= 1</tspan></text>
<text y="64.3"><tspan x="81.9" font-size="11.2">Δ</tspan><tspan x="90.6" font-style="italic">F</tspan><tspan x="101.5">= 0</tspan></text>
<text y="80.8"><tspan x="81.9" font-size="11.2">Δ</tspan><tspan x="90.6" font-style="italic">F</tspan><tspan x="101.5">= -1</tspan></text>
</svg>
</body></html>
